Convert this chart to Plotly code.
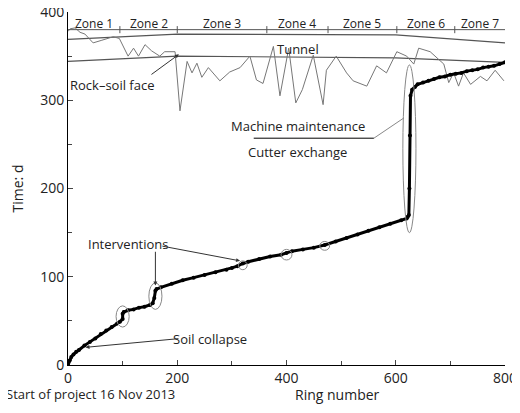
import plotly.graph_objects as go

ring = [0,3,6,10,15,20,30,40,50,60,70,80,90,95,100,100,102,110,120,130,140,150,155,158,160,162,170,190,210,230,250,270,290,300,310,320,330,350,370,390,400,410,430,450,470,490,510,530,550,570,590,610,620,622,624,625,626,627,630,635,640,650,660,670,680,690,700,710,720,730,740,750,760,770,780,790,800]
days = [0,5,9,12,15,17,22,26,30,35,39,43,47,49,52,58,60,62,63,65,66,68,70,76,84,86,88,92,96,99,102,105,108,110,112,115,117,120,123,125,127,129,131,133,136,140,144,148,152,156,160,164,166,168,170,200,260,305,312,315,318,320,322,324,326,327,329,330,331,333,334,335,337,338,339,341,343]

face_x = [0,4,13,22,31,46,62,83,94,110,120,129,141,153,168,177,196,205,218,227,236,245,257,278,296,315,333,345,357,376,388,404,417,429,449,467,473,491,510,522,547,565,583,602,620,633,642,663,688,697,706,715,724,737,755,767,782,798]
face_y = [378,381,382,377,375,365,368,372,370,350,359,350,363,356,350,355,355,288,344,331,342,326,337,322,332,337,350,323,319,361,305,359,297,312,351,295,334,350,331,322,316,339,331,355,350,341,359,355,341,320,331,316,331,318,327,322,334,322]

tunnel_x = [0,200,600,800]
tunnel_top = [369,375,374,365]
tunnel_bot = [344,350,348,343]

zone_names = ["Zone 1","Zone 2","Zone 3","Zone 4","Zone 5","Zone 6","Zone 7"]
zone_edges = [0,95,200,364,476,602,708,800]
zone_y = 380

gray = "#555555"
fig = go.Figure()
fig.add_trace(go.Scatter(x=tunnel_x, y=tunnel_top, mode="lines", line=dict(color=gray, width=1.2)))
fig.add_trace(go.Scatter(x=tunnel_x, y=tunnel_bot, mode="lines", line=dict(color=gray, width=1.2)))
fig.add_trace(go.Scatter(x=face_x, y=face_y, mode="lines", line=dict(color="#777777", width=1)))
fig.add_trace(go.Scatter(x=[0,800], y=[zone_y,zone_y], mode="lines", line=dict(color=gray, width=1)))
fig.add_trace(go.Scatter(x=ring, y=days, mode="lines+markers", line=dict(color="black", width=3),
                         marker=dict(color="black", size=4)))

shapes = []
for e in zone_edges[1:-1]:
    shapes.append(dict(type="line", x0=e, x1=e, y0=zone_y-4, y1=zone_y+4, line=dict(color=gray, width=1)))
ells = [(100,55,12,12),(160,78,12,15),(320,113,8,5),(400,125,10,6),(470,135,9,5),(625,245,12,95)]
for cx, cy, rx, ry in ells:
    shapes.append(dict(type="circle", x0=cx-rx, x1=cx+rx, y0=cy-ry, y1=cy+ry, line=dict(color="#888888", width=1)))
shapes.append(dict(type="line", x0=340, x1=560, y0=257, y1=257, line=dict(color="black", width=1)))
shapes.append(dict(type="line", x0=560, x1=615, y0=257, y1=280, line=dict(color="#888888", width=1)))

font = dict(family="Open Sans, Liberation Sans", size=13, color="#222")
arr = dict(showarrow=True, axref="x", ayref="y", arrowhead=2, arrowsize=0.8, arrowwidth=1, arrowcolor="#333")
ann = []
for i, n in enumerate(zone_names):
    ann.append(dict(x=(zone_edges[i]+zone_edges[i+1])/2, y=zone_y+7, text=n, showarrow=False, font=dict(family=font["family"], size=12, color="#222")))
ann += [
    dict(x=421, y=358, text="Tunnel", showarrow=False, font=font),
    dict(x=80, y=317, text="Rock–soil face", showarrow=False, font=font),
    dict(x=203, y=352, ax=150, ay=328, text="", **arr),
    dict(x=421, y=271, text="Machine maintenance", showarrow=False, font=font),
    dict(x=421, y=241, text="Cutter exchange", showarrow=False, font=font),
    dict(x=110, y=137, text="Interventions", showarrow=False, font=font),
    dict(x=160, y=90, ax=160, ay=130, text="", **arr),
    dict(x=315, y=118, ax=170, ay=135, text="", **arr),
    dict(x=260, y=30, text="Soil collapse", showarrow=False, font=font),
    dict(x=32, y=20, ax=205, ay=30, text="", **arr),
    dict(x=-60/437, y=-0.05, xref="paper", yref="paper", text="Start of project 16 Nov 2013", showarrow=False,
         xanchor="left", yanchor="top", xshift=-4, font=font),
    dict(x=493/800, y=-0.05, xref="paper", yref="paper", text="Ring number", showarrow=False,
         xanchor="center", yanchor="top", font=dict(family=font["family"], size=14, color="#222")),
]

fig.update_layout(
    width=520, height=413, margin=dict(l=60, r=23, t=4, b=56),
    plot_bgcolor="white", paper_bgcolor="white", showlegend=False,
    shapes=shapes, annotations=ann, font=font,
    xaxis=dict(range=[0,800], tickvals=[0,200,400,600,800], ticks="inside", ticklen=5, automargin=False,
               showline=True, linecolor="black", showgrid=False, zeroline=False, tickfont=dict(size=14),
               minor=dict(tickvals=[100,300,500,700], ticks="inside", ticklen=4)),
    yaxis=dict(range=[0,400], tickvals=[0,100,200,300,400], ticks="inside", ticklen=5, automargin=False,
               ticklabeloverflow="allow",
               showline=True, linecolor="black", showgrid=False, zeroline=False,
               title=dict(text="Time: d", standoff=14, font=dict(size=14)), tickfont=dict(size=14),
               minor=dict(tickvals=[50,150,250,350], ticks="inside", ticklen=4)),
)
fig.write_html("out.html")
